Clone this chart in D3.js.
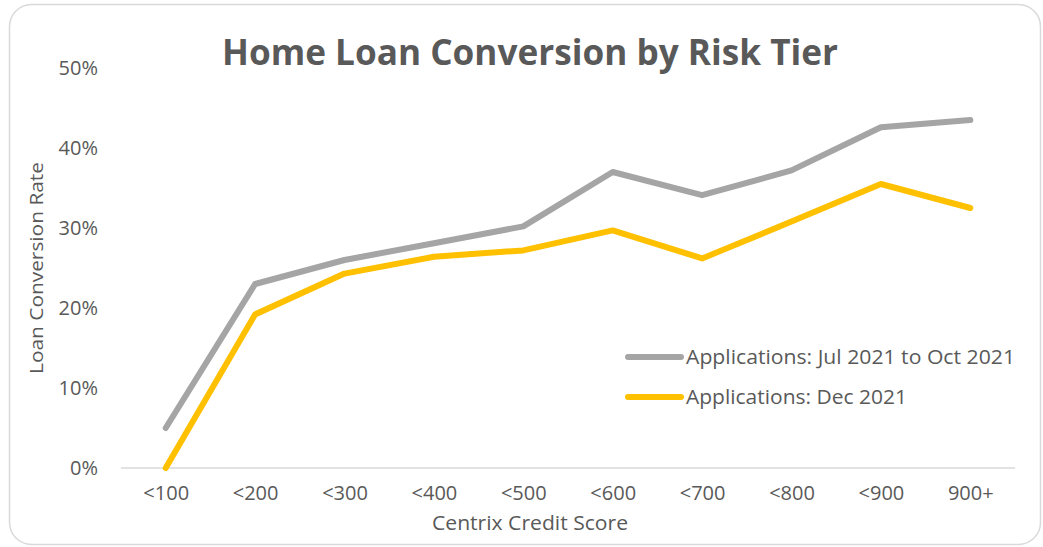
<!DOCTYPE html>
<html>
<head>
<meta charset="utf-8">
<script src="https://cdn.jsdelivr.net/npm/d3@7"></script>
<style>
  html, body { margin: 0; padding: 0; background: #fff; }
  svg { display: block; }
  text { font-family: "Open Sans", "Liberation Sans", sans-serif; fill: #595959; }
</style>
</head>
<body>
<svg id="chart" width="1043" height="547"></svg>
<script>
// Credit score bands on the x axis
const categories = ["<100", "<200", "<300", "<400", "<500", "<600", "<700", "<800", "<900", "900+"];

// Conversion rate (%) for each application period
const julToOct2021 = [5.0, 23.0, 26.0, 28.1, 30.2, 37.0, 34.1, 37.2, 42.6, 43.5];
const dec2021 = [0.0, 19.2, 24.3, 26.4, 27.2, 29.7, 26.2, 30.8, 35.5, 32.5];

const yTicks = [0, 10, 20, 30, 40, 50];

const seriesNames = ["Applications: Jul 2021 to Oct 2021", "Applications: Dec 2021"];
const seriesColors = ["#a5a5a5", "#ffc000"];

const series = [
  { name: seriesNames[0], values: julToOct2021, color: seriesColors[0], width: 329 },
  { name: seriesNames[1], values: dec2021, color: seriesColors[1], width: 221 }
];

const svg = d3.select("#chart");

// Chart area frame
svg.append("rect")
  .attr("x", 9.5).attr("y", 4.5)
  .attr("width", 1031).attr("height", 540)
  .attr("rx", 22).attr("ry", 22)
  .attr("fill", "#fff")
  .attr("stroke", "#d9d9d9")
  .attr("stroke-width", 1.5);

const plot = { left: 121, right: 1015, top: 68, bottom: 468 };

const x = d3.scalePoint()
  .domain(categories)
  .range([plot.left, plot.right])
  .padding(0.5);

const y = d3.scaleLinear()
  .domain([0, 50])
  .range([plot.bottom, plot.top]);

// Title
svg.append("text")
  .attr("x", 530).attr("y", 65)
  .attr("text-anchor", "middle")
  .style("font-size", "36px")
  .style("font-weight", "700")
  .attr("textLength", 616)
  .attr("lengthAdjust", "spacingAndGlyphs")
  .text("Home Loan Conversion by Risk Tier");

// Y axis tick labels (no axis line)
const yAxis = svg.append("g")
  .attr("transform", `translate(${plot.left - 23},0)`)
  .call(d3.axisLeft(y).tickValues(yTicks).tickSize(0).tickPadding(0).tickFormat(d => d + "%"));
yAxis.select(".domain").remove();
yAxis.selectAll("text")
  .style("font-size", "20px")
  .style("fill", "#595959")
  .attr("font-family", null);

// X axis baseline and tick labels
const xAxis = svg.append("g")
  .attr("transform", `translate(0,${plot.bottom})`)
  .call(d3.axisBottom(x).tickSize(0).tickPadding(18));
xAxis.select(".domain")
  .attr("stroke", "#d9d9d9")
  .attr("stroke-width", 1.5)
  .attr("d", `M${plot.left},0H${plot.right}`);
xAxis.selectAll("text")
  .style("font-size", "20px")
  .style("fill", "#595959")
  .attr("font-family", null);

// Axis titles
svg.append("text")
  .attr("transform", `translate(43,${(plot.top + plot.bottom) / 2}) rotate(-90)`)
  .attr("text-anchor", "middle")
  .style("font-size", "19px")
  .attr("textLength", 212)
  .attr("lengthAdjust", "spacingAndGlyphs")
  .text("Loan Conversion Rate");

svg.append("text")
  .attr("x", 530)
  .attr("y", 530)
  .attr("text-anchor", "middle")
  .style("font-size", "19.5px")
  .attr("textLength", 196)
  .attr("lengthAdjust", "spacingAndGlyphs")
  .text("Centrix Credit Score");

// Series lines
const line = d3.line()
  .x((d, i) => x(categories[i]))
  .y(d => y(d));

svg.append("g").selectAll("path")
  .data(series)
  .join("path")
  .attr("d", d => line(d.values))
  .attr("fill", "none")
  .attr("stroke", d => d.color)
  .attr("stroke-width", 6)
  .attr("stroke-linecap", "round")
  .attr("stroke-linejoin", "round");

// Legend
const legend = svg.append("g");
series.forEach((s, i) => {
  const ly = 357 + i * 40;
  legend.append("line")
    .attr("x1", 628).attr("x2", 681)
    .attr("y1", ly).attr("y2", ly)
    .attr("stroke", s.color)
    .attr("stroke-width", 6)
    .attr("stroke-linecap", "round");
  legend.append("text")
    .attr("x", 686).attr("y", ly + 7)
    .style("font-size", "20px")
    .attr("textLength", s.width)
    .attr("lengthAdjust", "spacingAndGlyphs")
    .text(s.name);
});
</script>
</body>
</html>
